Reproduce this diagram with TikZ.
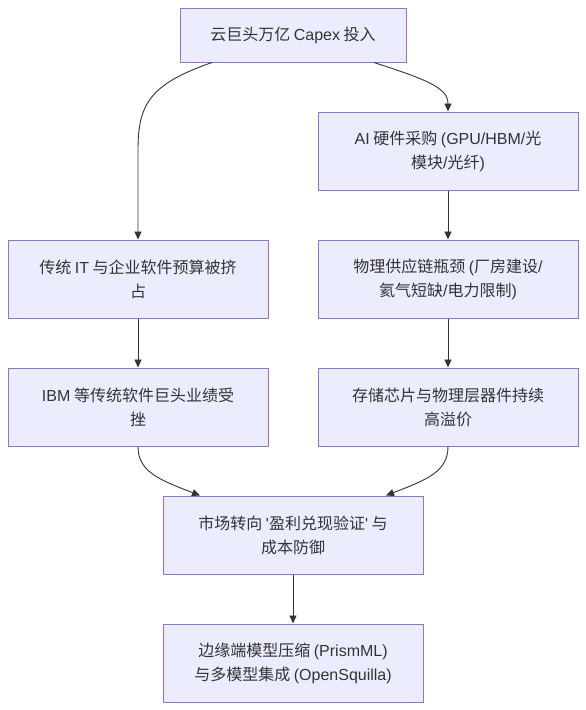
\documentclass[tikz,border=0pt]{standalone}
\usepackage{fontspec}
\setmainfont{Noto Sans CJK SC}
\newfontfamily\lat{Liberation Sans}
\usetikzlibrary{arrows.meta}
\definecolor{boxfill}{HTML}{ECECFF}
\definecolor{boxline}{HTML}{9370DB}
\definecolor{txt}{HTML}{333333}
\begin{document}
\begin{tikzpicture}[x=1pt,y=-1pt,
  box/.style={draw=boxline,fill=boxfill,line width=1pt,inner sep=0pt,
    minimum width=260pt,minimum height=78pt,align=center,text=txt,
    font=\fontsize{16pt}{24pt}\selectfont},
  conn/.style={draw=txt,line width=0.9pt,-{Triangle[length=8pt,width=7pt]}}]
\useasboundingbox (0,0) rectangle (586,710);
\node[box,minimum width=226pt,minimum height=54pt] (A) at (293,35) {云巨头万亿 {\lat Capex} 投入};
\node[box] (B) at (448,151) {{\lat AI} 硬件采购 {\lat (GPU/HBM/}光\\模块{\lat /}光纤{\lat )}};
\node[box] (C) at (138,279) {传统 {\lat IT} 与企业软件预算被挤\\占};
\node[box] (D) at (448,279) {物理供应链瓶颈 {\lat (}厂房建设{\lat /}\\氦气短缺{\lat /}电力限制{\lat )}};
\node[box] (E) at (138,407) {{\lat IBM} 等传统软件巨头业绩受\\挫};
\node[box] (F) at (448,407) {存储芯片与物理层器件持续\\高溢价};
\node[box] (G) at (293,535) {市场转向 {\lat '}盈利兑现验证{\lat '} 与\\成本防御};
\node[box] (H) at (293,663) {边缘端模型压缩 {\lat (PrismML)}\\与多模型集成 {\lat (OpenSquilla)}};
\draw[conn] ([xshift=-81pt]A.south) .. controls (150,84) and (138,104) .. (138,150) -- (C.north);
\draw[conn] ([xshift=81pt]A.south) .. controls (428,80) and (448,88) .. (B.north);
\draw[conn] (B) -- (D);
\draw[conn] (C) -- (E);
\draw[conn] (D) -- (F);
\draw[conn] (E.south) .. controls (138,472) and (160,480) .. ([xshift=-93pt]G.north);
\draw[conn] (F.south) .. controls (448,472) and (426,480) .. ([xshift=93pt]G.north);
\draw[conn] (G) -- (H);
\end{tikzpicture}
\end{document}
